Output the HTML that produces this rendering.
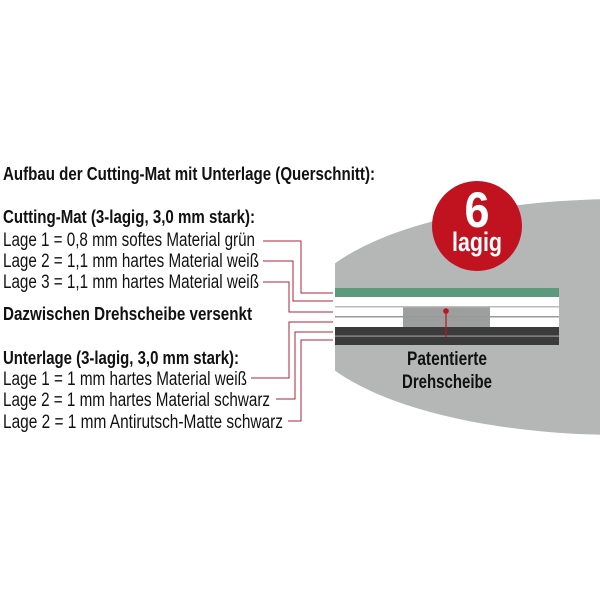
<!DOCTYPE html>
<html><head><meta charset="utf-8"><style>html,body{margin:0;padding:0;background:#fff}svg{display:block}</style></head>
<body>
<svg width="600" height="600" viewBox="0 0 600 600" xmlns="http://www.w3.org/2000/svg" font-family="Liberation Sans, sans-serif">
<defs><clipPath id="c"><rect x="335" y="0" width="265" height="600"/></clipPath></defs>
<ellipse cx="620" cy="317" rx="320" ry="118" fill="#b5b6b6" clip-path="url(#c)"/>
<rect x="335" y="288" width="224" height="9" fill="#5b9a7d"/>
<rect x="335" y="297" width="224" height="30" fill="#fff"/>
<rect x="403" y="307" width="87" height="20" fill="#9d9e9e"/>
<rect x="335" y="306" width="224" height="1.5" fill="#bbb"/>
<rect x="335" y="316" width="224" height="1.5" fill="#999"/>
<rect x="335" y="327" width="224" height="18" fill="#3b3b3b"/>
<rect x="335" y="335.5" width="224" height="1.2" fill="#999"/>
<line x1="446" y1="311" x2="446" y2="337" stroke="#c0121f" stroke-width="1.2"/>
<circle cx="446" cy="311" r="2.8" fill="#c0121f"/>
<text x="447" y="365" font-size="19" font-weight="bold" text-anchor="middle" textLength="80" lengthAdjust="spacingAndGlyphs" fill="#111">Patentierte</text>
<text x="447" y="388" font-size="19" font-weight="bold" text-anchor="middle" textLength="90" lengthAdjust="spacingAndGlyphs" fill="#111">Drehscheibe</text>
<circle cx="477" cy="226" r="45" fill="#c0121f"/>
<text x="477" y="227" font-size="50" font-weight="bold" text-anchor="middle" textLength="25" lengthAdjust="spacingAndGlyphs" fill="#fff">6</text>
<text x="477" y="251" font-size="27" font-weight="bold" text-anchor="middle" textLength="50" lengthAdjust="spacingAndGlyphs" fill="#fff">lagig</text>
<g fill="none" stroke="#a8273a" stroke-width="1">
<polyline points="263,241 301,241 301,293 333,293"/>
<polyline points="263,261 293,261 293,301 333,301"/>
<polyline points="263,282 289,282 289,312 333,312"/>
<polyline points="251,378 289,378 289,322 333,322"/>
<polyline points="276,399 295,399 295,332 333,332"/>
<polyline points="288,421 301,421 301,340 333,340"/>
</g>
<g fill="#111">
<text x="3" y="180" font-size="18.5" font-weight="bold" textLength="372" lengthAdjust="spacingAndGlyphs">Aufbau der Cutting-Mat mit Unterlage (Querschnitt):</text>
<text x="3" y="223" font-size="18.5" font-weight="bold" textLength="252" lengthAdjust="spacingAndGlyphs">Cutting-Mat (3-lagig, 3,0 mm stark):</text>
<text x="3" y="246" font-size="19" textLength="252" lengthAdjust="spacingAndGlyphs">Lage 1 = 0,8 mm softes Material grün</text>
<text x="3" y="267" font-size="19" textLength="256" lengthAdjust="spacingAndGlyphs">Lage 2 = 1,1 mm hartes Material weiß</text>
<text x="3" y="288" font-size="19" textLength="256" lengthAdjust="spacingAndGlyphs">Lage 3 = 1,1 mm hartes Material weiß</text>
<text x="3" y="320" font-size="18.5" font-weight="bold" textLength="249" lengthAdjust="spacingAndGlyphs">Dazwischen Drehscheibe versenkt</text>
<text x="3" y="364" font-size="18.5" font-weight="bold" textLength="236" lengthAdjust="spacingAndGlyphs">Unterlage (3-lagig, 3,0 mm stark):</text>
<text x="3" y="385" font-size="19" textLength="244" lengthAdjust="spacingAndGlyphs">Lage 1 = 1 mm hartes Material weiß</text>
<text x="3" y="406" font-size="19" textLength="267" lengthAdjust="spacingAndGlyphs">Lage 2 = 1 mm hartes Material schwarz</text>
<text x="3" y="428" font-size="19" textLength="280" lengthAdjust="spacingAndGlyphs">Lage 2 = 1 mm Antirutsch-Matte schwarz</text>
</g>
</svg>
</body></html>
